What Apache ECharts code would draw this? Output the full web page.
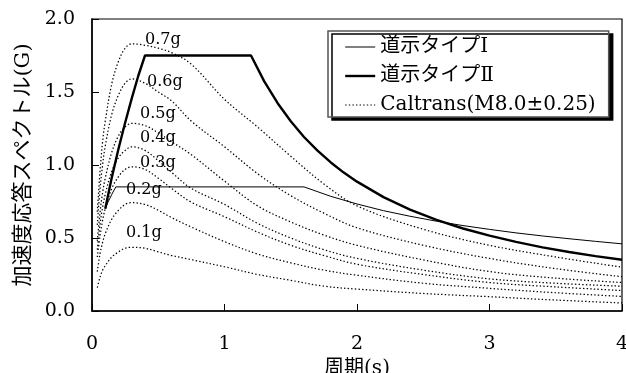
<!DOCTYPE html>
<html>
<head>
<meta charset="utf-8">
<script src="https://cdn.jsdelivr.net/npm/echarts@6/dist/echarts.min.js"></script>
<style>
html,body{margin:0;padding:0;background:#fff;}
#chart{width:626px;height:373px;}
</style>
</head>
<body>
<div id="chart"></div>
<script>
// ---- data ----
const xTicks = [0, 1, 2, 3, 4];
const yTicks = [0.0, 0.5, 1.0, 1.5, 2.0];

const seriesNames = ['道示タイプⅠ', '道示タイプⅡ', 'Caltrans(M8.0±0.25)'];

const type1Periods = [0.1, 0.12, 0.15, 0.18, 1.6, 1.8, 2.0, 2.2, 2.4, 2.6, 2.8, 3.0, 3.2, 3.4, 3.6, 3.8, 4.0];
const type1Values  = [0.70, 0.744, 0.80, 0.85, 0.85, 0.786, 0.733, 0.687, 0.649, 0.615, 0.585, 0.559, 0.535, 0.514, 0.495, 0.477, 0.46];

const type2Periods = [0.1, 0.15, 0.2, 0.25, 0.3, 0.35, 0.4, 1.2, 1.3, 1.4, 1.5, 1.6, 1.7, 1.8, 1.9, 2.0, 2.2, 2.4, 2.6, 2.8, 3.0, 3.2, 3.4, 3.6, 3.8, 4.0];
const type2Values  = [0.70, 0.917, 1.111, 1.289, 1.456, 1.613, 1.75, 1.75, 1.573, 1.425, 1.30, 1.192, 1.10, 1.019, 0.948, 0.886, 0.78, 0.694, 0.624, 0.565, 0.516, 0.473, 0.436, 0.404, 0.376, 0.351];

const caltransPeriods = [0.04, 0.06, 0.08, 0.1, 0.15, 0.2, 0.25, 0.3, 0.4, 0.5, 0.6, 0.75, 1.0, 1.25, 1.5, 1.75, 2.0, 2.5, 3.0, 3.5, 4.0];
const caltrans07 = [0.68, 0.95, 1.16, 1.30, 1.56, 1.71, 1.80, 1.83, 1.82, 1.80, 1.77, 1.69, 1.45, 1.26, 1.06, 0.87, 0.72, 0.56, 0.45, 0.37, 0.30];
const caltrans06 = [0.59, 0.83, 1.00, 1.13, 1.35, 1.48, 1.56, 1.59, 1.56, 1.50, 1.44, 1.30, 1.125, 0.94, 0.79, 0.67, 0.57, 0.45, 0.36, 0.29, 0.235];
const caltrans05 = [0.48, 0.67, 0.81, 0.91, 1.09, 1.20, 1.26, 1.285, 1.27, 1.22, 1.16, 1.07, 0.89, 0.72, 0.61, 0.52, 0.45, 0.35, 0.27, 0.225, 0.195];
const caltrans04 = [0.42, 0.59, 0.71, 0.80, 0.96, 1.05, 1.10, 1.125, 1.10, 1.03, 0.95, 0.84, 0.73, 0.60, 0.50, 0.42, 0.36, 0.28, 0.22, 0.19, 0.17];
const caltrans03 = [0.37, 0.51, 0.62, 0.70, 0.84, 0.92, 0.97, 0.988, 0.97, 0.91, 0.84, 0.745, 0.646, 0.54, 0.45, 0.38, 0.32, 0.25, 0.195, 0.165, 0.14];
const caltrans02 = [0.27, 0.39, 0.47, 0.53, 0.63, 0.69, 0.73, 0.742, 0.73, 0.69, 0.64, 0.575, 0.475, 0.39, 0.33, 0.28, 0.245, 0.19, 0.155, 0.125, 0.10];
const caltrans01 = [0.16, 0.23, 0.28, 0.31, 0.37, 0.405, 0.43, 0.436, 0.43, 0.405, 0.38, 0.352, 0.303, 0.25, 0.21, 0.17, 0.15, 0.12, 0.098, 0.075, 0.055];

const caltransLabels = ['0.7g', '0.6g', '0.5g', '0.4g', '0.3g', '0.2g', '0.1g'];
const caltransSets = [caltrans07, caltrans06, caltrans05, caltrans04, caltrans03, caltrans02, caltrans01];

// ---- chart ----
const serifFont = '"DejaVu Serif", "Liberation Serif", "Noto Sans CJK JP", serif';
const zip = (xs, ys) => xs.map((x, i) => [x, ys[i]]);

// label anchors (data coords), placed beside each curve peak
const labelAnchors = [[0.40, 1.856], [0.415, 1.568], [0.362, 1.349], [0.362, 1.185], [0.362, 1.014], [0.257, 0.829], [0.257, 0.534]];

const thinStyle = { color: '#000', width: 1 };
const thickStyle = { color: '#000', width: 2.4 };
const dotStyle = { color: '#000', width: 1.25, type: [1.4, 2.2] };

const series = [
  { name: seriesNames[0], type: 'line', symbol: 'none', z: 4, itemStyle: { color: '#000' }, lineStyle: thinStyle, data: zip(type1Periods, type1Values) },
  { name: seriesNames[1], type: 'line', symbol: 'none', z: 5, itemStyle: { color: '#000' }, lineStyle: thickStyle, data: zip(type2Periods, type2Values) }
];
caltransSets.forEach((vals, i) => {
  series.push({
    name: seriesNames[2], type: 'line', symbol: 'none', smooth: 0.35, z: 3,
    itemStyle: { color: '#000' },
    lineStyle: dotStyle,
    data: zip(caltransPeriods, vals),
    markPoint: {
      symbol: 'circle', symbolSize: 0, silent: true,
      label: {
        show: true, position: 'right', distance: 0,
        formatter: () => caltransLabels[i],
        fontFamily: serifFont, fontSize: 16, color: '#000'
      },
      data: [{ coord: labelAnchors[i] }]
    }
  });
});

const chart = echarts.init(document.getElementById('chart'), null, { renderer: 'canvas' });
chart.setOption({
  animation: false,
  backgroundColor: '#fff',
  grid: {
    left: 92, right: 4, top: 19, bottom: 62,
    outerBoundsMode: 'none', containLabel: false,
    show: true, borderColor: '#000', borderWidth: 1.2, backgroundColor: 'transparent'
  },
  legend: {
    orient: 'vertical', left: 328, top: 31,
    selectedMode: false,
    backgroundColor: '#fff', borderColor: '#555', borderWidth: 1.5,
    shadowColor: '#000', shadowBlur: 0, shadowOffsetX: 4, shadowOffsetY: 3,
    padding: [6, 13, 2, 16],
    itemWidth: 30, itemHeight: 14, itemGap: 9,
    itemStyle: { opacity: 0 },
    textStyle: { fontFamily: serifFont, fontSize: 20, color: '#000', lineHeight: 20 },
    data: [
      { name: seriesNames[0], lineStyle: thinStyle },
      { name: seriesNames[1], lineStyle: thickStyle },
      { name: seriesNames[2], lineStyle: { color: '#000', width: 1, type: [1.4, 2.2] } }
    ]
  },
  xAxis: {
    type: 'value', min: xTicks[0], max: xTicks[xTicks.length - 1], interval: 1,
    name: '周期(s)', nameLocation: 'middle', nameGap: 46,
    nameTextStyle: { fontFamily: serifFont, fontSize: 20, color: '#000' },
    axisLine: { show: true, onZero: false, lineStyle: { color: '#000', width: 1.5 } },
    axisTick: { show: true, inside: true, length: 7, lineStyle: { color: '#000', width: 1 } },
    axisLabel: { margin: 24, fontFamily: serifFont, fontSize: 19, color: '#000' },
    splitLine: { show: false }
  },
  yAxis: {
    type: 'value', min: yTicks[0], max: yTicks[yTicks.length - 1], interval: 0.5,
    name: '加速度応答スペクトル(G)', nameLocation: 'middle', nameGap: 58, nameRotate: 90,
    nameTextStyle: { fontFamily: serifFont, fontSize: 21, color: '#000' },
    axisLine: { show: true, onZero: false, lineStyle: { color: '#000', width: 1.5 } },
    axisTick: { show: true, inside: true, length: 7, lineStyle: { color: '#000', width: 1 } },
    axisLabel: { margin: 17, fontFamily: serifFont, fontSize: 19, color: '#000', formatter: v => v.toFixed(1) },
    splitLine: { show: false }
  },
  series: series
});
</script>
</body>
</html>
